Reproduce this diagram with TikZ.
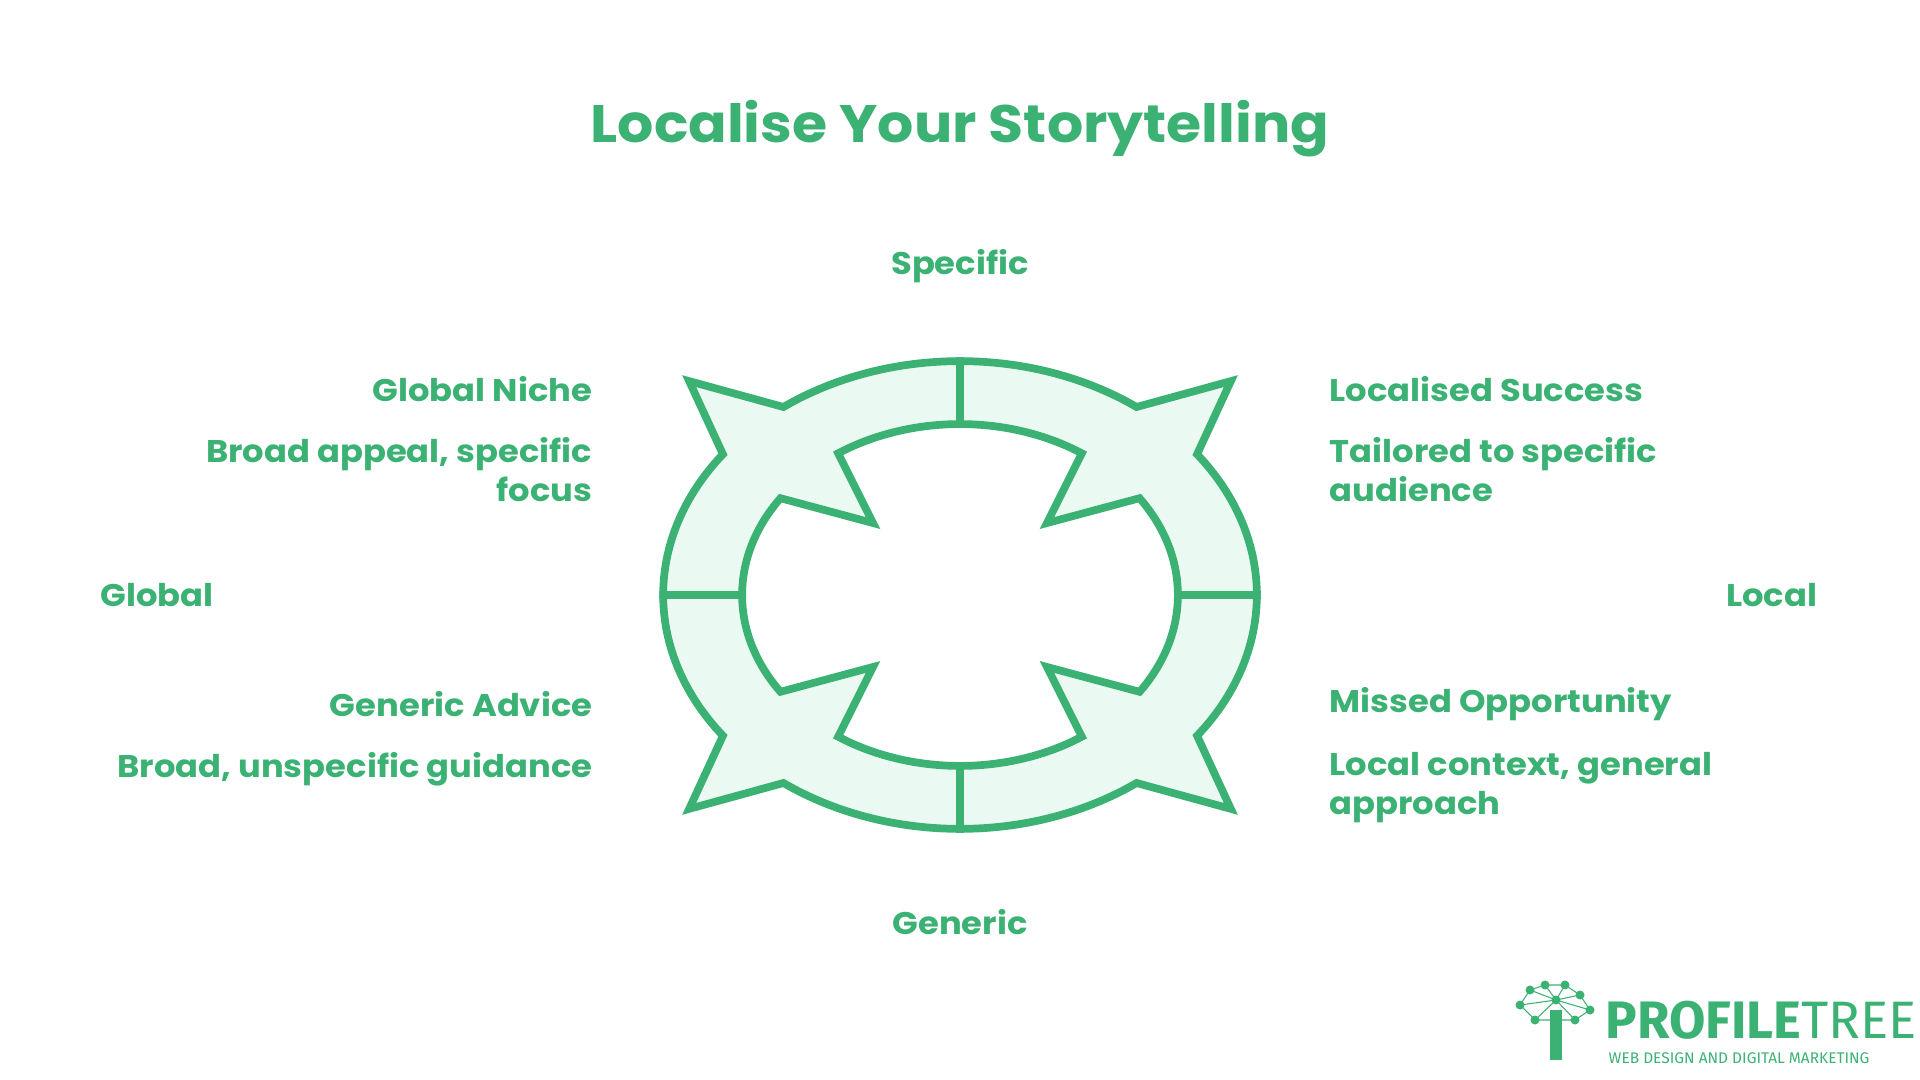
\documentclass[tikz,border=0pt]{standalone}
\usepackage{fontspec}
\setmainfont{Poppins}[BoldFont=* Bold]
\newfontfamily\lblfont{Poppins Bold}[FakeStretch=1.08]
\newfontfamily\logofont{Fira Sans}
\definecolor{pg}{HTML}{3BB273}
\definecolor{mint}{HTML}{EAF9F1}
\begin{document}
\begin{tikzpicture}[
  lbl/.style={text=pg,font=\lblfont\fontsize{8.9pt}{11pt}\selectfont,inner sep=0pt},
  quad/.style={draw=pg,fill=mint,line width=2.2pt,line join=miter}]
\useasboundingbox (0,0) rectangle (19.2,-10.8);
\node[text=pg,font=\lblfont\fontsize{15pt}{18pt}\selectfont] (title) at (9.6,-1.29) {Localise Your Storytelling};
\node[lbl] (spec) at (9.6,-2.66) {Specific};
\node[lbl] (gen) at (9.6,-9.22) {Generic};
\node[lbl,anchor=west] (glob) at (1.0,-5.95) {Global};
\node[lbl,anchor=east] (loc) at (18.18,-5.95) {Local};
\node[lbl,anchor=east] (gn) at (5.93,-3.89) {Global Niche};
\node[lbl,anchor=north east,align=right] (gnd) at (5.93,-4.37) {Broad appeal, specific\\focus};
\node[lbl,anchor=west] (ls) at (13.29,-3.89) {Localised Success};
\node[lbl,anchor=north west,align=left] (lsd) at (13.29,-4.37) {Tailored to specific\\audience};
\node[lbl,anchor=east] (ga) at (5.93,-7.04) {Generic Advice};
\node[lbl,anchor=north east,align=right] (gad) at (5.93,-7.52) {Broad, unspecific guidance};
\node[lbl,anchor=west] (mo) at (13.29,-7.04) {Missed Opportunity};
\node[lbl,anchor=north west,align=left] (mod) at (13.29,-7.52) {Local context, general\\approach};
\foreach \sx/\sy in {1/1,-1/1,1/-1,-1/-1}{
\begin{scope}[shift={(9.6,-5.95)},scale=0.01,xscale=\sx,yscale=\sy]
\path[quad] (0,234) arc[start angle=90,end angle=126.5,x radius=297,y radius=234]
 -- (-271,214) -- ({297*cos(143)},{234*sin(143)})
 arc[start angle=143,end angle=180,x radius=297,y radius=234]
 -- (-218,0) arc[start angle=180,end angle=145.5,x radius=218,y radius=171]
 -- (-87,72) -- ({218*cos(124)},{171*sin(124)})
 arc[start angle=124,end angle=90,x radius=218,y radius=171] -- cycle;
\end{scope}}
% logo
\begin{scope}[pg]
\fill (15.5,-10.6) rectangle (15.62,-10.1);
\foreach \a/\b in {15.2/-10.05,15.3/-9.9,15.45/-9.85,15.65/-9.85,15.8/-9.95,15.9/-10.1,15.75/-10.2,15.35/-10.2,15.56/-10.0}{
  \fill (\a,\b) circle (0.045); \draw[line width=0.3pt] (\a,\b) -- (15.56,-10.0);}
\draw[line width=0.3pt] (15.2,-10.05)--(15.3,-9.9)--(15.45,-9.85)--(15.65,-9.85)--(15.8,-9.95)--(15.9,-10.1)--(15.75,-10.2)--(15.35,-10.2)--cycle;
\end{scope}
\node[inner sep=0pt,anchor=west,text=pg,font=\logofont\fontsize{15pt}{15pt}\selectfont] (logo) at (16.05,-10.2) {\textbf{PROFILE}TREE};
\node[inner sep=0pt,anchor=west,text=pg,font=\logofont\fontsize{4.4pt}{5pt}\selectfont] (sub) at (16.08,-10.58) {WEB DESIGN AND DIGITAL MARKETING};
\end{tikzpicture}
\end{document}
